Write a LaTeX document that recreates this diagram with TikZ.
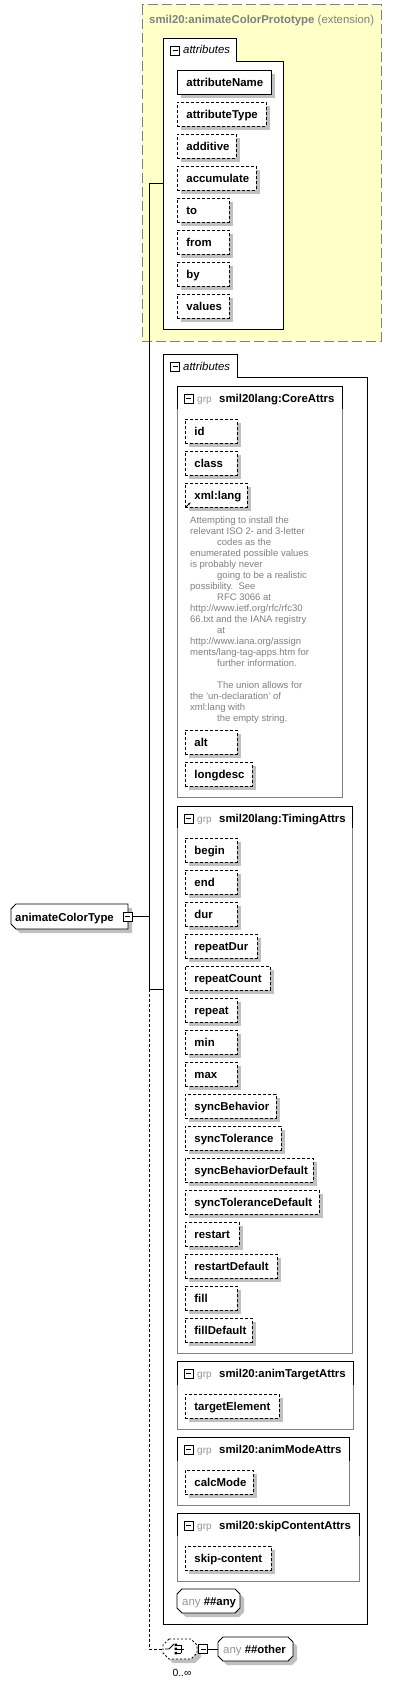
\documentclass[tikz,border=0pt]{standalone}
\usepackage{fontspec}
\setmainfont{Liberation Sans}
\usetikzlibrary{shadows,arrows.meta}
\definecolor{extyellow}{RGB}{255,255,200}
\definecolor{bordergray}{RGB}{128,128,128}
\definecolor{shadowgray}{RGB}{192,192,192}
\definecolor{textgray}{RGB}{128,128,128}
\definecolor{softgray}{RGB}{150,150,150}
\newcommand\fsz{\fontsize{11.4}{13}\selectfont}
\newcommand\docsz{\fontsize{9.5}{11}\selectfont}
\newcommand\ind{\hspace*{27pt}}
\tikzset{
  shd/.style={drop shadow={shadow xshift=4pt, shadow yshift=-4pt, fill=shadowgray, opacity=1}},
  attrbox/.style={shd, draw, fill=white, line width=0.9pt, dash pattern=on 3pt off 2pt,
    anchor=north west, inner xsep=9pt, inner ysep=0pt, minimum height=24pt,
    text height=9pt, text depth=1pt, font=\fsz\bfseries, align=left},
  reqbox/.style={attrbox, solid},
  minusbox/.style={draw, fill=white, line width=0.8pt, minimum size=9pt, inner sep=0pt,
    path picture={\draw[line width=0.8pt] ([xshift=2pt]path picture bounding box.west) -- ([xshift=-2pt]path picture bounding box.east);}},
  frame/.style={draw, fill=white, line width=0.9pt},
  lbl/.style={anchor=base west, inner sep=0pt, font=\fsz},
  conn/.style={line width=1pt},
}
\newcommand\attr[6][attrbox]{%
  \pgfmathsetmacro\attrw{#5-#3-18}%
  \node[#1, text width=\attrw pt] (#2) at (#3,#4) {\mbox{#6}};}
\newcommand\octa[6]{%
  \draw[#6] (#1+#5,#2) -- (#3-#5,#2) -- (#3,#2+#5) -- (#3,#4-#5) -- (#3-#5,#4) -- (#1+#5,#4) -- (#1,#4-#5) -- (#1,#2+#5) -- cycle;}
\newcommand\attrsframe[5]{% name, top, tabright, right, bottom
  \draw[frame] (163,#2) -- (#3,#2) -- (#3,#2+23) -- (#4,#2+23) -- (#4,#5) -- (163,#5) -- cycle;
  \node[minusbox] (#1m) at (175,#2+12.5) {};
  \node[lbl, font=\fsz\itshape] (#1t) at (183,#2+16) {attributes};}
\newcommand\grp[6]{% name, top, right, headbottom, bottom, title
  \draw[frame, draw=bordergray] (177,#2) rectangle (#3,#5);
  \draw[line width=0.9pt] (177,#4) -- (177,#2) -- (#3,#2) -- (#3,#4);
  \node[minusbox] (#1m) at (188.5,#2+12.5) {};
  \node[lbl, font=\fontsize{10}{12}\selectfont, text=softgray] (#1g) at (197,#2+16) {grp};
  \node[lbl, font=\fsz\bfseries] (#1t) at (219,#2+16) {#6};}
\begin{document}
\begin{tikzpicture}[x=1pt,y=-1pt]
\useasboundingbox (0,0) rectangle (416,1685);
% extension region
\draw[fill=extyellow, draw=bordergray, line width=1pt, dash pattern=on 10pt off 4pt] (142,5) rectangle (381,341);
\node[lbl, text=textgray] (title) at (149,23.5) {\textbf{smil20:animateColorPrototype} (extension)};
% attributes 1
\attrsframe{attrsA}{38}{236}{283}{329}
\attr[reqbox]{attributeName}{177}{70}{271}{attributeName}
\attr{attributeType}{177}{102}{266}{attributeType}
\attr{additive}{177}{134}{236}{additive}
\attr{accumulate}{177}{166}{256}{accumulate}
\attr{to}{177}{198}{229}{to}
\attr{from}{177}{230}{229}{from}
\attr{by}{177}{262}{229}{by}
\attr{values}{177}{294}{229}{values}
% attributes 2
\attrsframe{attrsB}{354}{237}{367}{1624}
\grp{core}{386}{342}{409}{797}{smil20lang:CoreAttrs}
\attr{id}{185}{419}{237}{id}
\attr{class}{185}{451}{237}{class}
\attr{xmllang}{185}{483}{247}{xml:lang}
\draw[line width=0.8pt, -{Stealth[length=2.5pt,width=2.5pt]}] (186,507) -- (190.5,502.5);
\node[anchor=north west, align=left, font=\docsz, text=textgray, inner sep=0pt] (doc) at (190,516) {%
Attempting to install the\\
relevant ISO 2- and 3-letter\\
\ind codes as the\\
enumerated possible values\\
is probably never\\
\ind going to be a realistic\\
possibility.\ \ See\\
\ind RFC 3066 at\\
http://www.ietf.org/rfc/rfc30\\
66.txt and the IANA registry\\
\ind at\\
http://www.iana.org/assign\\
ments/lang-tag-apps.htm for\\
\ind further information.\\[11pt]
\ind The union allows for\\
the {\char"0027}un-declaration{\char"0027} of\\
xml:lang with\\
\ind the empty string.};
\attr{alt}{185}{730}{237}{alt}
\attr{longdesc}{185}{762}{252}{longdesc}
\grp{timing}{806}{352}{828}{1353}{smil20lang:TimingAttrs}
\attr{begin}{185}{838}{237}{begin}
\attr{end}{185}{870}{237}{end}
\attr{dur}{185}{902}{237}{dur}
\attr{repeatDur}{185}{934}{257}{repeatDur}
\attr{repeatCount}{185}{966}{270}{repeatCount}
\attr{repeat}{185}{998}{237}{repeat}
\attr{min}{185}{1030}{237}{min}
\attr{max}{185}{1062}{237}{max}
\attr{syncBehavior}{185}{1094}{276}{syncBehavior}
\attr{syncTolerance}{185}{1126}{281}{syncTolerance}
\attr{syncBehaviorDefault}{185}{1158}{313}{syncBehaviorDefault}
\attr{syncToleranceDefault}{185}{1190}{319}{syncToleranceDefault}
\attr{restart}{185}{1222}{239}{restart}
\attr{restartDefault}{185}{1254}{277}{restartDefault}
\attr{fill}{185}{1286}{237}{fill}
\attr{fillDefault}{185}{1318}{252}{fillDefault}
\grp{target}{1361}{353}{1385}{1429}{smil20:animTargetAttrs}
\attr{targetElement}{185}{1394}{279}{targetElement}
\grp{mode}{1437}{349}{1461}{1505}{smil20:animModeAttrs}
\attr{calcMode}{185}{1470}{253}{calcMode}
\grp{skip}{1513}{359}{1536}{1581}{smil20:skipContentAttrs}
\attr{skipcontent}{185}{1546}{271}{skip-content}
% any ##any
\octa{177}{1589}{240}{1613}{5}{shd, fill=white, line width=0.9pt}
\node[lbl] (anyany) at (182,1605) {{\color{softgray}any} \textbf{\#\#any}};
% complex type node
\draw[shd, fill=white, line width=0.9pt] (16,904) -- (128,904) -- (128,929) -- (16,929) -- (11,924) -- (11,909) -- cycle;
\node[lbl, font=\fsz\bfseries] (ctype) at (15,921) {animateColorType};
\node[minusbox] (ctmin) at (127.5,916.5) {};
% compositor
\octa{163}{1639}{197}{1659}{6}{shd, fill=white, line width=0.8pt, dash pattern=on 2pt off 2pt}
\coordinate (compW) at (163,1649);
\draw[line width=0.8pt] (165,1649) -- (169,1649) -- (174,1644);
\fill (174.5,1643.5) rectangle (177,1646) (174.5,1647.7) rectangle (177,1650.2) (174.5,1651.9) rectangle (177,1654.4);
\draw[line width=0.8pt] (177,1645) -- (181,1645) (177,1649) -- (184,1649) (177,1653) -- (181,1653) (181,1644.6) -- (181,1653.4);
\node[minusbox] (compmin) at (203,1649) {};
\node[font=\fontsize{10.4}{12}\selectfont, inner sep=0pt] (card) at (182,1673) {0..∞};
% any ##other
\octa{218}{1637}{293}{1661}{5}{shd, fill=white, line width=0.9pt}
\coordinate (otherW) at (218,1649);
\node[lbl] (anyother) at (223,1653) {{\color{softgray}any} \textbf{\#\#other}};
% connectors
\coordinate (jtop) at (149,183.5);
\coordinate (jmid) at (149,916.5);
\coordinate (jbot) at (149,989);
\coordinate (jend) at (149,1649);
\coordinate (aW) at (163,183.5);
\coordinate (bW) at (163,989);
\draw[conn] (jtop) -- (jbot);
\draw[conn] (jtop) -- (aW);
\draw[conn] (jbot) -- (bW);
\draw[conn] (ctmin.east) -- (jmid);
\draw[line width=0.9pt, dash pattern=on 3pt off 2pt] (jbot) -- (jend) -- (compW);
\draw[conn] (compmin.east) -- (otherW);
\end{tikzpicture}
\end{document}
